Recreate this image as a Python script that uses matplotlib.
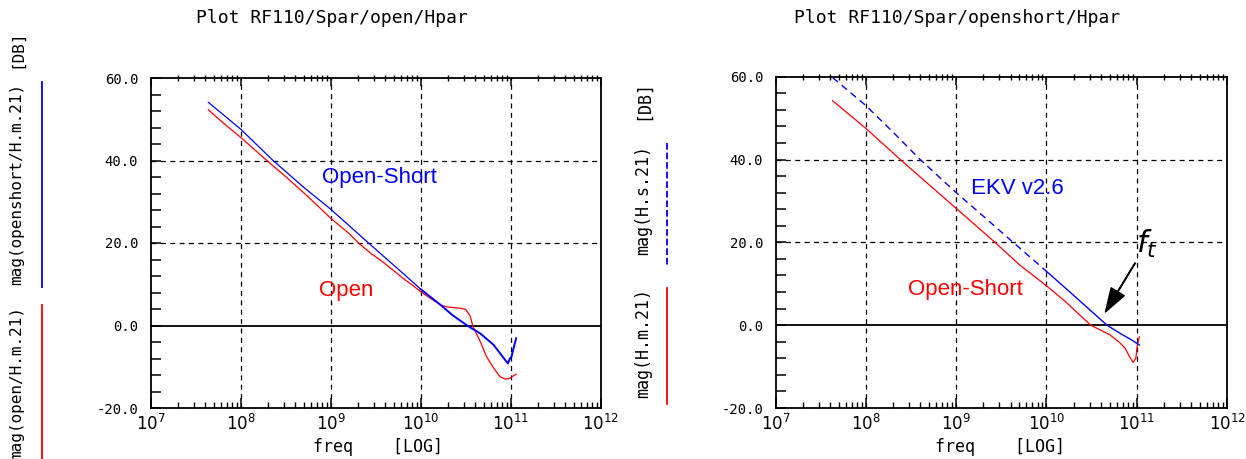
import matplotlib.pyplot as plt
from matplotlib.lines import Line2D
from matplotlib.ticker import FixedLocator, FuncFormatter, LogLocator, NullFormatter

# ---- left panel: H21 after open / open-short de-embedding (Hz, dB)
open_freq = [4.37e7, 6.31e7, 1e8, 1.95e8, 3.16e8, 5.62e8, 1e9, 1.58e9, 2.04e9, 2.82e9, 3.55e9,
             5.01e9, 6.31e9, 7.94e9, 1e10, 1.26e10, 1.66e10, 1.95e10, 2.75e10, 3.16e10, 3.55e10,
             3.8e10, 4.17e10, 4.57e10, 5.37e10, 6.46e10, 7.59e10, 8.71e10, 9.77e10, 1.07e11, 1.15e11]
open_db = [52.3, 49.2, 45.6, 40.0, 36.1, 31.2, 26.0, 22.4, 20.0, 17.4, 15.9,
           13.3, 11.5, 9.9, 8.2, 6.7, 5.0, 4.5, 4.2, 3.9, 2.3,
           -0.2, -2.0, -3.8, -7.5, -10.3, -12.4, -13.0, -12.8, -12.2, -11.8]

openshort_freq = [4.37e7, 1e8, 2.29e8, 5.01e8, 1e9, 2.63e9, 3.55e9, 6.31e9, 1e10, 1.66e10, 2.29e10,
                  3.39e10, 4.57e10, 6.46e10, 7.59e10, 8.71e10, 9.33e10, 9.77e10, 1.02e11, 1.07e11, 1.15e11]
openshort_db = [54.1, 47.6, 40.0, 33.5, 28.2, 20.0, 17.5, 12.7, 8.8, 5.0, 2.4,
                -0.2, -1.9, -4.7, -6.7, -8.4, -9.2, -8.0, -7.6, -5.7, -3.1]

# ---- right panel: measured (open-short) vs EKV v2.6 model
meas_freq = [4.27e7, 1e8, 2.4e8, 5.01e8, 1e9, 2.69e9, 5.01e9, 1e10, 1.58e10, 3.09e10, 3.98e10,
             5.01e10, 6.31e10, 7.41e10, 8.32e10, 9.12e10, 9.77e10, 1.02e11, 1.07e11]
meas_db = [54.2, 47.5, 40.0, 33.9, 28.2, 20.0, 14.6, 9.5, 5.9, 0.0, -1.2,
           -2.3, -4.0, -5.5, -7.6, -9.0, -8.0, -4.5, -2.8]

ekv_freq = [4.27e7, 1e8, 2e8, 3.98e8, 1e9, 2e9, 4.27e9, 1e10, 2e10, 4.68e10, 6.46e10, 9.12e10, 1.07e11]
ekv_db = [59.8, 53.0, 46.6, 40.0, 32.0, 26.3, 20.0, 13.0, 7.2, 0.0, -1.9, -3.8, -4.8]
ekv_dash_until = 7   # model drawn dashed at low freq, dense (solid looking) above

ytick_vals = list(range(-20, 61, 4))
grid_db = [20, 40]

W, H = 1246, 459
BLUE = '#0000ff'
RED = '#ff0000'
MONO = 'DejaVu Sans Mono'

fig = plt.figure(figsize=(W / 100, H / 100), dpi=100)


def fx(x):
    return x / W


def fy(y):
    return 1 - y / H


def style_panel(ax):
    ax.set_xscale('log')
    ax.set_xlim(1e7, 1e12)
    ax.set_ylim(-20, 60)
    for s in ax.spines.values():
        s.set_linewidth(1.3)
    ax.yaxis.set_major_locator(FixedLocator(ytick_vals))
    ax.yaxis.set_major_formatter(FuncFormatter(lambda v, p: '%.1f' % v if v % 20 == 0 else ''))
    ax.tick_params(axis='y', which='major', direction='in', length=7, width=1.1,
                   left=True, right=False, pad=9, labelsize=10)
    for lab in ax.get_yticklabels():
        lab.set_family(MONO)
    ax.xaxis.set_major_locator(LogLocator(base=10, numticks=10))
    ax.xaxis.set_minor_locator(LogLocator(base=10, subs=range(2, 10), numticks=20))
    ax.xaxis.set_minor_formatter(NullFormatter())
    ax.tick_params(axis='x', which='major', direction='in', length=7, width=1.1,
                   top=False, labelsize=12, pad=4)
    ax.tick_params(axis='x', which='minor', direction='in', length=4.5, width=1.0, top=False)
    # top spine ticks cross the frame
    top = ax.twiny()
    top.set_xscale('log')
    top.set_xlim(1e7, 1e12)
    top.xaxis.set_major_locator(LogLocator(base=10, numticks=10))
    top.xaxis.set_minor_locator(LogLocator(base=10, subs=range(2, 10), numticks=20))
    top.tick_params(axis='x', which='major', direction='in', length=6, width=1.1,
                    labeltop=False, top=True)
    top.tick_params(axis='x', which='minor', direction='inout', length=5, width=1.0,
                    labeltop=False, top=True)
    top.xaxis.set_major_formatter(NullFormatter())
    top.xaxis.set_minor_formatter(NullFormatter())
    for s in top.spines.values():
        s.set_visible(False)
    # grid
    for f in [1e8, 1e9, 1e10, 1e11]:
        ax.axvline(f, color='black', lw=0.9, ls=(0, (4, 3.5)), zorder=1)
    for g in grid_db:
        ax.axhline(g, color='black', lw=0.9, ls=(0, (4, 3.5)), zorder=1)
    ax.axhline(0, color='black', lw=1.3, zorder=1)


# ---- left panel
ax1 = fig.add_axes([fx(150.7), fy(408), fx(600.7) - fx(150.7), fy(78) - fy(408)])
style_panel(ax1)
ax1.plot(open_freq, open_db, color=RED, lw=0.9, zorder=3)
ax1.plot(openshort_freq[:9], openshort_db[:9], color=BLUE, lw=0.9, zorder=4)
ax1.plot(openshort_freq[8:], openshort_db[8:], color=BLUE, lw=1.4, zorder=4)
ax1.text(3.5e9, 36.0, 'Open-Short', color=BLUE, fontsize=16, family='Liberation Sans',
         ha='center', va='center')
ax1.text(1.5e9, 8.6, 'Open', color=RED, fontsize=16, family='Liberation Sans',
         ha='center', va='center')

# ---- right panel
ax2 = fig.add_axes([fx(775.7), fy(408), fx(1227) - fx(775.7), fy(76.7) - fy(408)])
style_panel(ax2)
ax2.plot(meas_freq, meas_db, color=RED, lw=0.9, zorder=3)
ax2.plot(ekv_freq[:ekv_dash_until + 1], ekv_db[:ekv_dash_until + 1], color=BLUE, lw=1.0,
         ls=(0, (5, 3.5)), zorder=4)
ax2.plot(ekv_freq[ekv_dash_until:], ekv_db[ekv_dash_until:], color=BLUE, lw=1.0, zorder=4)
ax2.text(4.7e9, 33.1, 'EKV v2.6', color=BLUE, fontsize=16, family='Liberation Sans',
         ha='center', va='center')
ax2.text(1.26e9, 8.5, 'Open-Short', color=RED, fontsize=16, family='Liberation Sans',
         ha='center', va='center')
ax2.annotate('', xy=(4.5e10, 3.2), xytext=(9.6e10, 15.0),
             arrowprops=dict(facecolor='black', edgecolor='black', width=0.4,
                             headwidth=11, headlength=17, shrink=0))
ax2.text(1.3e11, 19.5, r'$f_t$', fontsize=22, ha='center', va='center')

# ---- titles and axis labels (HP IC-CAP style)
fig.text(fx(332), fy(18), 'Plot RF110/Spar/open/Hpar', family=MONO, fontsize=13,
         ha='center', va='center')
fig.text(fx(957), fy(18), 'Plot RF110/Spar/openshort/Hpar', family=MONO, fontsize=13,
         ha='center', va='center')
fig.text(fx(378), fy(447), 'freq    [LOG]', family=MONO, fontsize=12, ha='center', va='center')
fig.text(fx(1000), fy(447), 'freq    [LOG]', family=MONO, fontsize=12, ha='center', va='center')

ylabels = [
    (17, 30, '[DB]', 11.5, None, None),
    (17, 83, 'mag(openshort/H.m.21)', 11.5, BLUE, (42, 82, 287, '-')),
    (17, 306, 'mag(open/H.m.21)', 11.5, RED, (42, 305, 459, '-')),
    (643, 80, '[DB]', 12, None, None),
    (643, 145, 'mag(H.s.21)', 12, BLUE, (667, 143, 265, '--')),
    (643, 288, 'mag(H.m.21)', 12, RED, (667, 288, 404, '-')),
]
for x, y, txt, size, col, seg in ylabels:
    fig.text(fx(x), fy(y), txt, family=MONO, fontsize=size, rotation=90,
             rotation_mode='anchor', ha='right', va='center')
    if seg is not None:
        lx, y0, y1, ls = seg
        fig.add_artist(Line2D([fx(lx), fx(lx)], [fy(y0), fy(y1)], transform=fig.transFigure,
                              color=col, lw=1.3, ls=ls))

fig.savefig('out.png', dpi=100)
